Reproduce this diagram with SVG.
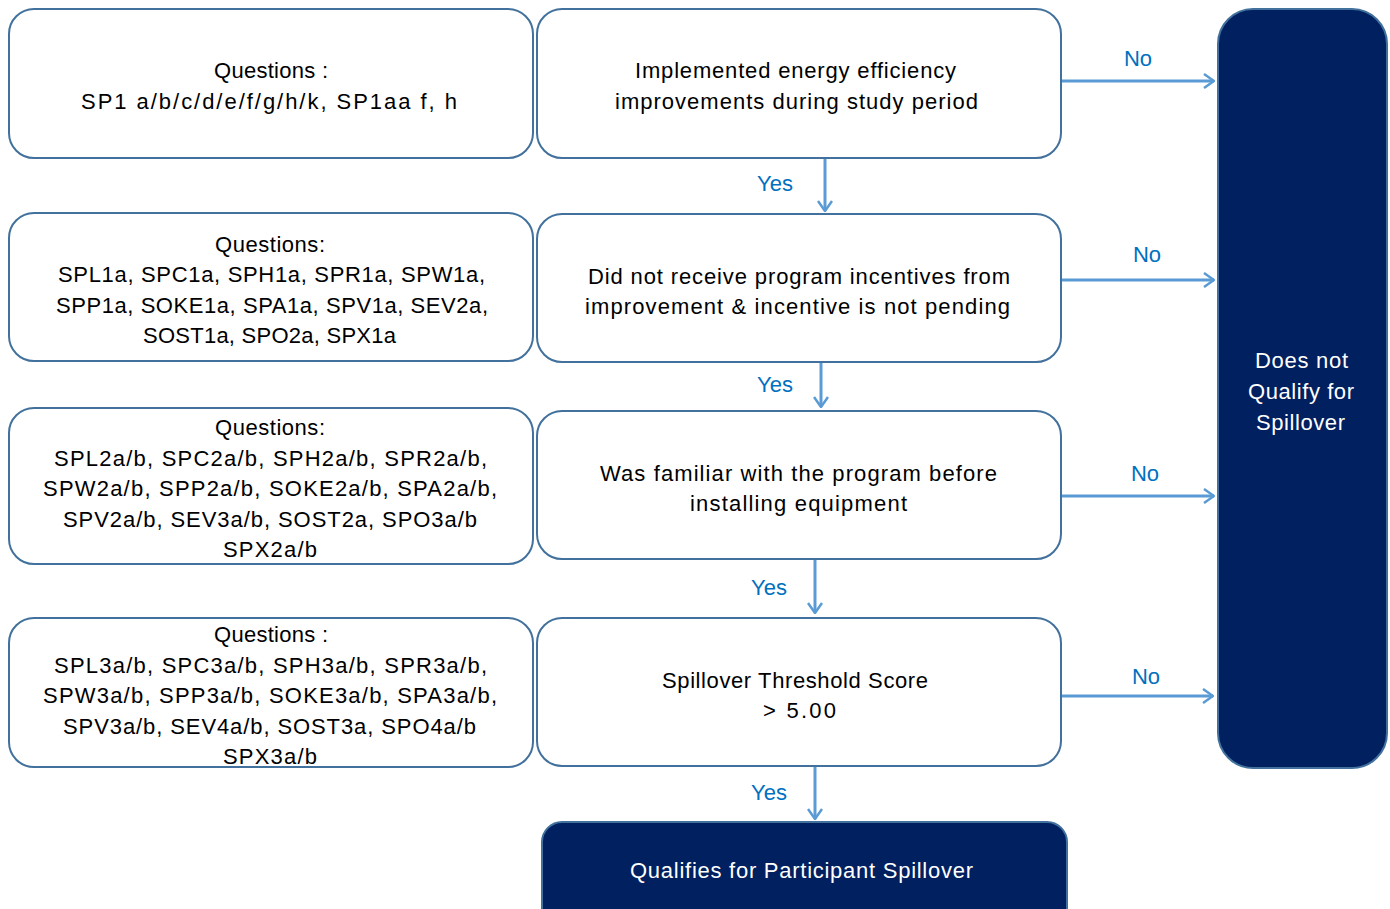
<svg xmlns="http://www.w3.org/2000/svg" width="1390" height="909" viewBox="0 0 1390 909">
<defs>
<marker id="ah" viewBox="0 0 12 16" refX="11" refY="8" markerWidth="12" markerHeight="16" markerUnits="userSpaceOnUse" orient="auto">
<path d="M1,1 L11,8 L1,15" fill="none" stroke="#5B9BD5" stroke-width="2.5"/>
</marker>
<style>
.box{fill:#fff;stroke:#41719C;stroke-width:2}
.dark{fill:#002060;stroke:#41719C;stroke-width:2}
text{font-family:"Liberation Sans",Arial,sans-serif;font-size:22px;text-anchor:middle}
.t{fill:#000}
.w{fill:#fff}
.lab{fill:#0070C0}
.c{stroke:#5B9BD5;stroke-width:3;fill:none;marker-end:url(#ah)}
</style>
</defs>
<g id="q1"><rect class="box" x="9" y="9" width="524" height="149" rx="25"/>
<text class="t" x="271" y="78" textLength="114" lengthAdjust="spacing">Questions :</text>
<text class="t" x="269" y="109" textLength="376" lengthAdjust="spacing">SP1 a/b/c/d/e/f/g/h/k, SP1aa f, h</text></g>
<g id="q2"><rect class="box" x="9" y="213" width="524" height="148" rx="25"/>
<text class="t" x="270" y="252" textLength="110" lengthAdjust="spacing">Questions:</text>
<text class="t" x="271.5" y="282" textLength="427" lengthAdjust="spacing">SPL1a, SPC1a, SPH1a, SPR1a, SPW1a,</text>
<text class="t" x="272" y="313" textLength="432" lengthAdjust="spacing">SPP1a, SOKE1a, SPA1a, SPV1a, SEV2a,</text>
<text class="t" x="269.5" y="343" textLength="253" lengthAdjust="spacing">SOST1a, SPO2a, SPX1a</text></g>
<g id="q3"><rect class="box" x="9" y="408" width="524" height="156" rx="25"/>
<text class="t" x="270" y="435" textLength="110" lengthAdjust="spacing">Questions:</text>
<text class="t" x="270.5" y="466" textLength="433" lengthAdjust="spacing">SPL2a/b, SPC2a/b, SPH2a/b, SPR2a/b,</text>
<text class="t" x="270" y="496" textLength="454" lengthAdjust="spacing">SPW2a/b, SPP2a/b, SOKE2a/b, SPA2a/b,</text>
<text class="t" x="270" y="527" textLength="414" lengthAdjust="spacing">SPV2a/b, SEV3a/b, SOST2a, SPO3a/b</text>
<text class="t" x="270" y="557" textLength="94" lengthAdjust="spacing">SPX2a/b</text></g>
<g id="q4"><rect class="box" x="9" y="618" width="524" height="149" rx="25"/>
<text class="t" x="271" y="642" textLength="114" lengthAdjust="spacing">Questions :</text>
<text class="t" x="270.5" y="673" textLength="433" lengthAdjust="spacing">SPL3a/b, SPC3a/b, SPH3a/b, SPR3a/b,</text>
<text class="t" x="270" y="703" textLength="454" lengthAdjust="spacing">SPW3a/b, SPP3a/b, SOKE3a/b, SPA3a/b,</text>
<text class="t" x="269.5" y="734" textLength="413" lengthAdjust="spacing">SPV3a/b, SEV4a/b, SOST3a, SPO4a/b</text>
<text class="t" x="270" y="764" textLength="94" lengthAdjust="spacing">SPX3a/b</text></g>
<g id="d1"><rect class="box" x="537" y="9" width="524" height="149" rx="25"/>
<text class="t" x="795.5" y="78" textLength="321" lengthAdjust="spacing">Implemented energy efficiency</text>
<text class="t" x="796.5" y="109" textLength="363" lengthAdjust="spacing">improvements during study period</text></g>
<g id="d2"><rect class="box" x="537" y="214" width="524" height="148" rx="25"/>
<text class="t" x="799" y="284" textLength="422" lengthAdjust="spacing">Did not receive program incentives from</text>
<text class="t" x="797.5" y="314" textLength="425" lengthAdjust="spacing">improvement &amp; incentive is not pending</text></g>
<g id="d3"><rect class="box" x="537" y="411" width="524" height="148" rx="25"/>
<text class="t" x="798.5" y="481" textLength="397" lengthAdjust="spacing">Was familiar with the program before</text>
<text class="t" x="798.5" y="511" textLength="217" lengthAdjust="spacing">installing equipment</text></g>
<g id="d4"><rect class="box" x="537" y="618" width="524" height="148" rx="25"/>
<text class="t" x="795" y="688" textLength="266" lengthAdjust="spacing">Spillover Threshold Score</text>
<text class="t" x="799.5" y="718" textLength="73" lengthAdjust="spacing">&gt; 5.00</text></g>
<g id="noq"><rect class="dark" x="1218" y="9" width="169" height="759" rx="35"/>
<text class="w" x="1301.5" y="368" textLength="93" lengthAdjust="spacing">Does not</text>
<text class="w" x="1301" y="399" textLength="106" lengthAdjust="spacing">Qualify for</text>
<text class="w" x="1300.5" y="430" textLength="89" lengthAdjust="spacing">Spillover</text></g>
<g id="qual"><rect class="dark" x="542" y="822" width="525" height="110" rx="20"/>
<text class="w" x="801.5" y="878" textLength="343" lengthAdjust="spacing">Qualifies for Participant Spillover</text></g>
<g id="connectors">
<line class="c" x1="1062" y1="81" x2="1214" y2="81"/>
<line class="c" x1="1062" y1="280" x2="1214" y2="280"/>
<line class="c" x1="1062" y1="496" x2="1214" y2="496"/>
<line class="c" x1="1062" y1="696" x2="1213" y2="696"/>
<line class="c" x1="825" y1="159" x2="825" y2="211"/>
<line class="c" x1="821" y1="363" x2="821" y2="407"/>
<line class="c" x1="815" y1="560" x2="815" y2="613"/>
<line class="c" x1="815" y1="767" x2="815" y2="819"/>
<text class="lab" x="1138" y="66">No</text>
<text class="lab" x="1147" y="262">No</text>
<text class="lab" x="1145" y="481">No</text>
<text class="lab" x="1146" y="684">No</text>
<text class="lab" x="775" y="191">Yes</text>
<text class="lab" x="775" y="392">Yes</text>
<text class="lab" x="769" y="595">Yes</text>
<text class="lab" x="769" y="800">Yes</text>
</g>
</svg>
